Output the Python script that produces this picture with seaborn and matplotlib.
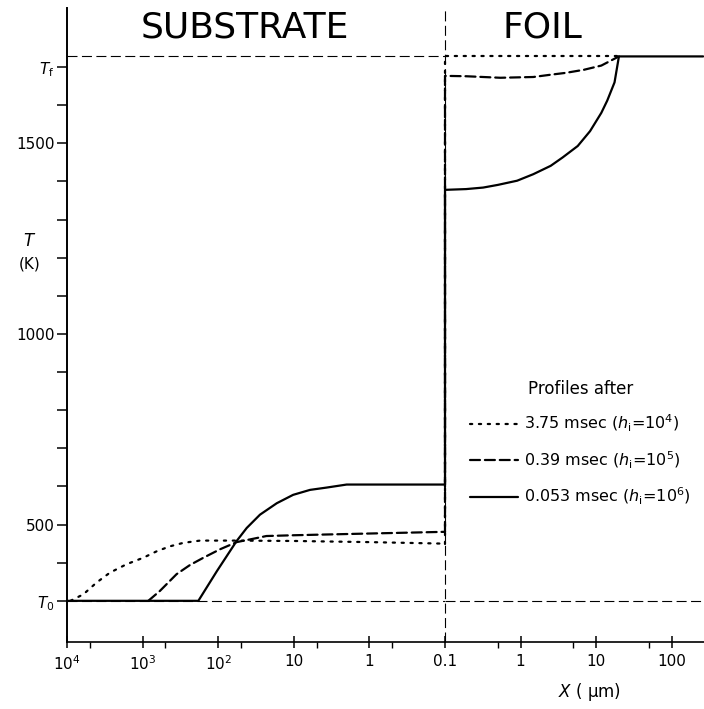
import matplotlib
matplotlib.use("Agg")

import matplotlib.pyplot as plt
import pandas as pd
import seaborn as sns
from matplotlib.lines import Line2D
from matplotlib.ticker import FixedLocator, NullFormatter

# ---- data ---------------------------------------------------------------
T0 = 300      # K, initial substrate temperature
TF = 1728     # K, foil temperature
X_INTERFACE = 0.1  # um, both sides meet here

PROFILES = ["3.75 msec", "0.39 msec", "0.053 msec"]
H_EXP = [4, 5, 6]

# substrate side: distance from interface (um) and temperature (K)
sub_x_dot = [9000, 6080, 4060, 2700, 1630, 980, 650, 434, 290, 174, 57, 10, 1, 0.1]
sub_T_dot = [300, 317, 348, 374, 396, 413, 430, 443, 452, 458, 458, 457, 454, 450]
sub_x_dash = [840, 590, 355, 236, 157, 95, 57, 34, 23, 10, 3.7, 0.1]
sub_T_dash = [300, 326, 370, 394, 413, 435, 454, 463, 470, 472, 474, 481]
sub_x_solid = [1e4, 183, 104, 57, 42, 28, 16.8, 10.2, 6.1, 3.7, 2.0, 0.1]
sub_T_solid = [300, 300, 378, 457, 491, 526, 556, 578, 591, 597, 605, 605]

# foil side
foil_x_dot = [0.1, 20]
foil_T_dot = [1728, 1728]
foil_x_dash = [0.1, 0.19, 0.54, 1.47, 2.5, 4.0, 6.9, 11.7, 20]
foil_T_dash = [1677, 1676, 1672, 1674, 1680, 1685, 1693, 1704, 1728]
foil_x_solid = [0.1, 0.19, 0.32, 0.5, 0.9, 1.47, 2.5, 3.6, 5.7, 8.3, 11.7, 14,
                17.5, 20, 260]
foil_T_solid = [1378, 1380, 1384, 1391, 1402, 1419, 1441, 1463, 1493, 1532, 1580,
                1612, 1660, 1728, 1728]

Y_MAJOR = list(range(300, 1800, 100))
Y_LABELS = {300: "$T_{\\mathrm{0}}$", 500: "500", 1000: "1000", 1500: "1500",
            1700: "$T_{\\mathrm{f}}$"}
SUB_TICKS = [1e4, 1e3, 1e2, 10, 1, 0.1]
SUB_TICK_LABELS = ["$10^{4}$", "$10^{3}$", "$10^{2}$", "10", "1", "0.1"]
SUB_MINOR = [5e3, 5e2, 50, 5, 0.5]
FOIL_TICKS = [1, 10, 100]
FOIL_TICK_LABELS = ["1", "10", "100"]
FOIL_MINOR = [0.5, 5, 50]

# ---- tidy frames ----------------------------------------------------------
sub_rows, foil_rows = [], []
for name, xs, ts in zip(PROFILES, [sub_x_dot, sub_x_dash, sub_x_solid],
                        [sub_T_dot, sub_T_dash, sub_T_solid]):
    sub_rows += [{"profile": name, "x": x, "T": t} for x, t in zip(xs, ts)]
for name, sub_t, xs, ts in zip(PROFILES, [sub_T_dot, sub_T_dash, sub_T_solid],
                               [foil_x_dot, foil_x_dash, foil_x_solid],
                               [foil_T_dot, foil_T_dash, foil_T_solid]):
    # jump across the interface starts from the substrate end value
    foil_rows.append({"profile": name, "x": X_INTERFACE, "T": sub_t[-1]})
    foil_rows += [{"profile": name, "x": x, "T": t} for x, t in zip(xs, ts)]
sub_df = pd.DataFrame(sub_rows)
foil_df = pd.DataFrame(foil_rows)

DASHES = {PROFILES[0]: (1, 3), PROFILES[1]: (4.5, 2.2), PROFILES[2]: ""}
REF_DASH = (9, 4)

# ---- figure ---------------------------------------------------------------
sns.set_theme(style="ticks")
plt.rcParams["font.family"] = ["DejaVu Sans"]
plt.rcParams["mathtext.fontset"] = "dejavusans"
for key in ("text.color", "axes.labelcolor", "xtick.color", "ytick.color",
            "axes.edgecolor"):
    plt.rcParams[key] = "black"

W, H = 704, 709
fig = plt.figure(figsize=(W / 100, H / 100), dpi=100)
x_left, x_mid, x_right = 67, 445, 704
y_bot, y_top = 642, 8
ax_s = fig.add_axes([x_left / W, 1 - y_bot / H, (x_mid - x_left) / W, (y_bot - y_top) / H])
ax_f = fig.add_axes([x_mid / W, 1 - y_bot / H, (x_right - x_mid) / W, (y_bot - y_top) / H],
                    sharey=ax_s)

YLIM = (192, 1855)
for ax in (ax_s, ax_f):
    ax.set_xscale("log")
    ax.patch.set_alpha(0)
ax_s.set_xlim(1e4, X_INTERFACE)
ax_f.set_xlim(X_INTERFACE, 267)
ax_s.set_ylim(*YLIM)

line_kw = dict(color="black", linewidth=1.6, sort=False, estimator=None,
               legend=False, clip_on=False, dash_capstyle="round")
sns.lineplot(data=sub_df, x="x", y="T", style="profile", style_order=PROFILES,
             dashes=DASHES, ax=ax_s, **line_kw)
sns.lineplot(data=foil_df, x="x", y="T", style="profile", style_order=PROFILES,
             dashes=DASHES, ax=ax_f, **line_kw)

# reference lines: T0 everywhere, Tf over the substrate, interface
ref_kw = dict(color="black", linewidth=0.8, dashes=REF_DASH, zorder=1)
ax_s.axhline(T0, **ref_kw)
ax_f.axhline(T0, **ref_kw)
ax_s.axhline(TF, **ref_kw)
ax_f.axvline(X_INTERFACE, clip_on=False, **ref_kw)

# spines and ticks
sns.despine(ax=ax_s, top=True, right=True)
sns.despine(ax=ax_f, top=True, right=True, left=True)
for ax in (ax_s, ax_f):
    ax.spines["bottom"].set_linewidth(1.2)
    ax.tick_params(axis="x", which="major", direction="inout", length=9, width=1.1,
                   labelsize=11, pad=4)
    ax.tick_params(axis="x", which="minor", direction="out", length=4, width=1.0)
ax_s.spines["left"].set_linewidth(1.4)
ax_f.tick_params(axis="y", left=False, labelleft=False)

ax_s.xaxis.set_major_locator(FixedLocator(SUB_TICKS))
ax_s.set_xticklabels(SUB_TICK_LABELS)
ax_s.xaxis.set_minor_locator(FixedLocator(SUB_MINOR))
ax_s.xaxis.set_minor_formatter(NullFormatter())
ax_f.xaxis.set_major_locator(FixedLocator(FOIL_TICKS))
ax_f.set_xticklabels(FOIL_TICK_LABELS)
ax_f.xaxis.set_minor_locator(FixedLocator(FOIL_MINOR))
ax_f.xaxis.set_minor_formatter(NullFormatter())

ax_s.yaxis.set_major_locator(FixedLocator(Y_MAJOR))
ax_s.set_yticklabels([Y_LABELS.get(v, "") for v in Y_MAJOR])
ax_s.tick_params(axis="y", direction="out", length=7, width=1.1, labelsize=11, pad=2)
for ax in (ax_s, ax_f):
    ax.set_xlabel("")
    ax.set_ylabel("")

# region titles and axis labels
fig.text(245 / W, 1 - 28 / H, "SUBSTRATE", fontsize=26, ha="center", va="center")
fig.text(542 / W, 1 - 28 / H, "FOIL", fontsize=26, ha="center", va="center")
fig.text(30 / W, 1 - 241 / H, "$T$", fontsize=12, ha="center", va="center")
fig.text(30 / W, 1 - 264 / H, "(K)", fontsize=11, ha="center", va="center")
fig.text(590 / W, 1 - 692 / H, "$X$ ( \u03bcm)", fontsize=12, ha="center", va="center")

# legend
handles = [Line2D([], [], color="black", linewidth=1.6, dash_capstyle="round",
                  linestyle=(0, DASHES[p]) if DASHES[p] else "-") for p in PROFILES]
labels = [f"{p} ($h_{{\\mathrm{{i}}}}$=$10^{{{e}}}$)" for p, e in zip(PROFILES, H_EXP)]
leg = fig.legend(handles, labels, title="Profiles after", loc="upper left",
                 bbox_to_anchor=(470 / W, 1 - 380 / H), frameon=False, fontsize=11.5,
                 title_fontsize=12, handlelength=3.0, handletextpad=0.4,
                 labelspacing=0.95, borderaxespad=0, borderpad=0)

fig.savefig("out.png", dpi=100)
plt.close(fig)
